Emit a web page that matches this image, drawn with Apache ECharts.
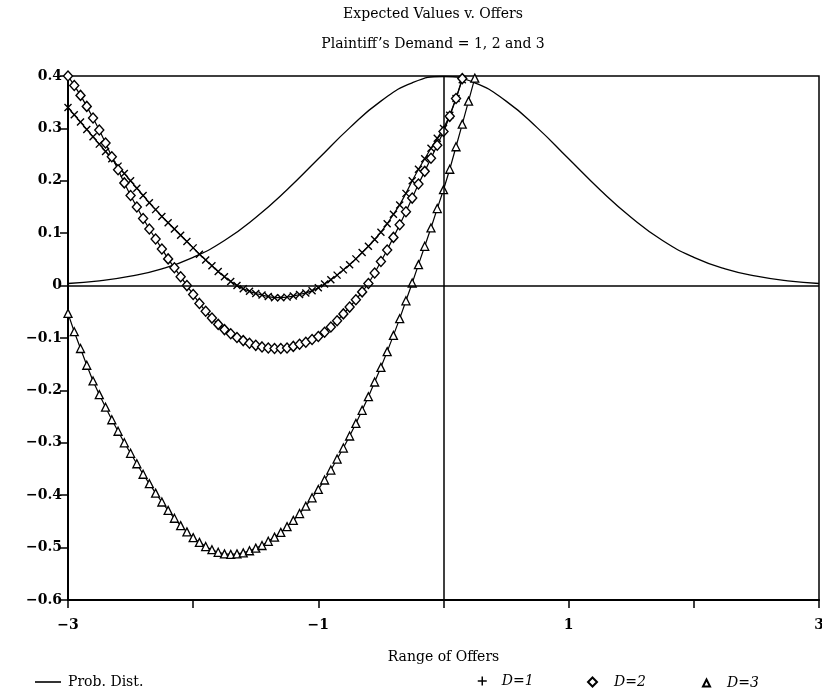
<!DOCTYPE html>
<html>
<head>
<meta charset="utf-8">
<script src="https://cdn.jsdelivr.net/npm/echarts@6/dist/echarts.min.js"></script>
<style>html,body{margin:0;padding:0;background:#fff;overflow:hidden}#c{width:822px;height:692px}</style>
</head>
<body>
<div id="c"></div>
<script>
// ---- data ----
const titleLines = ['Expected Values v. Offers', 'Plaintiff\u2019s Demand = 1, 2 and 3'];
const xName = 'Range of Offers';
const seriesNames = ['Prob. Dist.', 'D=1', 'D=2', 'D=3'];

const probX = [-3,-2.75,-2.5,-2.25,-2,-1.75,-1.5,-1.25,-1,-0.75,-0.5,-0.25,0,0.25,0.5,0.75,1,1.25,1.5,1.75,2,2.25,2.5,2.75,3];
const probY = [0.004,0.009,0.018,0.032,0.054,0.086,0.130,0.183,0.242,0.301,0.352,0.387,0.399,0.387,0.352,0.301,0.242,0.183,0.130,0.086,0.054,0.032,0.018,0.009,0.004];

const offers = [-3.00,-2.95,-2.90,-2.85,-2.80,-2.75,-2.70,-2.65,-2.60,-2.55,
  -2.50,-2.45,-2.40,-2.35,-2.30,-2.25,-2.20,-2.15,-2.10,-2.05,
  -2.00,-1.95,-1.90,-1.85,-1.80,-1.75,-1.70,-1.65,-1.60,-1.55,
  -1.50,-1.45,-1.40,-1.35,-1.30,-1.25,-1.20,-1.15,-1.10,-1.05,
  -1.00,-0.95,-0.90,-0.85,-0.80,-0.75,-0.70,-0.65,-0.60,-0.55,
  -0.50,-0.45,-0.40,-0.35,-0.30,-0.25,-0.20,-0.15,-0.10,-0.05,
  0.00,0.05,0.10,0.15,0.20,0.25];

const d1 = [0.340,0.326,0.312,0.298,0.284,0.270,0.256,0.242,0.228,0.214,
  0.200,0.186,0.172,0.158,0.145,0.132,0.120,0.108,0.096,0.084,
  0.072,0.060,0.049,0.038,0.027,0.017,0.008,0.000,-0.006,-0.011,
  -0.015,-0.018,-0.021,-0.023,-0.023,-0.022,-0.020,-0.017,-0.014,-0.010,
  -0.004,0.003,0.011,0.020,0.030,0.040,0.051,0.063,0.075,0.088,
  0.102,0.118,0.136,0.154,0.176,0.200,0.222,0.242,0.262,0.281,
  0.300,0.325,0.357,0.393];

const d2 = [0.400,0.382,0.363,0.342,0.320,0.297,0.272,0.246,0.221,0.196,
  0.172,0.150,0.128,0.108,0.089,0.070,0.051,0.034,0.017,0.000,
  -0.017,-0.034,-0.049,-0.062,-0.074,-0.084,-0.092,-0.099,-0.105,-0.110,
  -0.114,-0.117,-0.119,-0.120,-0.120,-0.119,-0.116,-0.112,-0.108,-0.103,
  -0.097,-0.089,-0.079,-0.067,-0.054,-0.041,-0.027,-0.012,0.004,0.024,
  0.046,0.068,0.092,0.116,0.141,0.167,0.194,0.218,0.243,0.268,
  0.294,0.323,0.357,0.395];

const d3 = [-0.053,-0.088,-0.120,-0.152,-0.182,-0.208,-0.232,-0.256,-0.278,-0.300,
  -0.320,-0.340,-0.360,-0.378,-0.396,-0.413,-0.429,-0.444,-0.458,-0.470,
  -0.481,-0.490,-0.498,-0.504,-0.509,-0.512,-0.513,-0.512,-0.510,-0.506,
  -0.501,-0.496,-0.488,-0.480,-0.471,-0.460,-0.448,-0.435,-0.421,-0.405,
  -0.389,-0.371,-0.352,-0.331,-0.310,-0.287,-0.263,-0.238,-0.212,-0.184,
  -0.156,-0.126,-0.095,-0.063,-0.029,0.005,0.040,0.075,0.110,0.147,
  0.183,0.222,0.265,0.308,0.352,0.396];

// ---- chart ----
const FONT = '"DejaVu Serif", serif';
const pair = (xs, ys) => ys.map((y, i) => [xs[i], y]);
const minus = s => String(s).replace('-', '\u2212');
const crossPath = 'path://M0,0L10,10M10,0L0,10';
const plusPath = 'path://M5,0L5,10M0,5L10,5';

const chart = echarts.init(document.getElementById('c'), null, {renderer: 'canvas'});
const lineBase = {
  type: 'line', smooth: false, clip: false,
  lineStyle: {color: '#000', width: 1.2},
  emphasis: {disabled: true}, animation: false
};
chart.setOption({
  animation: false,
  backgroundColor: '#fff',
  textStyle: {fontFamily: FONT, color: '#000'},
  title: {
    text: titleLines.join('\n'),
    left: 428, top: -6, textAlign: 'center',
    textStyle: {fontFamily: FONT, fontSize: 14, fontWeight: 'normal', color: '#000', lineHeight: 30}
  },
  legend: [
    {data: [{name: seriesNames[0], icon: 'rect'}], left: 30, top: 670, itemWidth: 26, itemHeight: 1.6,
     itemStyle: {color: '#000'},
     textStyle: {fontFamily: FONT, fontSize: 14, color: '#000', padding: [0,0,0,2]}},
    {data: [{name: seriesNames[1], icon: plusPath}], left: 472, top: 669, itemWidth: 9, itemHeight: 9,
     itemStyle: {color: '#000', borderColor: '#000', borderWidth: 1.5},
     textStyle: {fontFamily: FONT, fontSize: 14, fontStyle: 'italic', color: '#000', padding: [0,0,0,10]}},
    {data: [{name: seriesNames[2], icon: 'diamond'}], left: 582, top: 670, itemWidth: 9, itemHeight: 9,
     textStyle: {fontFamily: FONT, fontSize: 14, fontStyle: 'italic', color: '#000', padding: [0,0,0,12]}},
    {data: [{name: seriesNames[3], icon: 'triangle'}], left: 697, top: 671, itemWidth: 7, itemHeight: 7,
     textStyle: {fontFamily: FONT, fontSize: 14, fontStyle: 'italic', color: '#000', padding: [0,0,0,12]}}
  ],
  grid: {left: 68, right: 3, top: 76, bottom: 92, containLabel: false, outerBoundsMode: 'none',
         show: true, borderColor: '#000', borderWidth: 1.5, backgroundColor: 'transparent'},
  xAxis: {
    type: 'value', min: -3, max: 3, interval: 1,
    name: xName, nameLocation: 'middle', nameGap: 50,
    nameTextStyle: {fontFamily: FONT, fontSize: 14, color: '#000'},
    axisLine: {onZero: false, lineStyle: {color: '#000', width: 2}},
    axisTick: {inside: false, length: 8, lineStyle: {color: '#000', width: 1.5}},
    splitLine: {show: false},
    axisLabel: {
      fontFamily: FONT, fontSize: 14, fontWeight: 'bold', color: '#000', margin: 18,
      formatter: v => (Math.abs(Math.round(v)) % 2 === 1 ? minus(v) : '')
    }
  },
  yAxis: {
    type: 'value', min: -0.6, max: 0.4, interval: 0.1,
    axisLine: {onZero: false, lineStyle: {color: '#000', width: 2}},
    axisTick: {inside: false, length: 8, lineStyle: {color: '#000', width: 1.5}},
    splitLine: {show: false},
    axisLabel: {
      fontFamily: FONT, fontSize: 14, fontWeight: 'bold', color: '#000', margin: 6,
      formatter: v => (Math.abs(v) < 1e-9 ? '0' : minus(v.toFixed(1)))
    }
  },
  series: [
    Object.assign({}, lineBase, {
      name: seriesNames[0], data: pair(probX, probY), smooth: true, symbol: 'none',
      itemStyle: {color: '#000'},
      lineStyle: {color: '#000', width: 1.3},
      markLine: {
        silent: true, symbol: 'none', label: {show: false},
        lineStyle: {color: '#000', width: 1.5, type: 'solid'},
        data: [{yAxis: 0}, {xAxis: 0}]
      }
    }),
    Object.assign({}, lineBase, {
      name: seriesNames[1], data: pair(offers, d1), symbol: crossPath, symbolSize: 7,
      itemStyle: {color: '#000', borderColor: '#000', borderWidth: 1.4}
    }),
    Object.assign({}, lineBase, {
      name: seriesNames[2], data: pair(offers, d2), symbol: 'diamond', symbolSize: [9, 10],
      itemStyle: {color: '#fff', borderColor: '#000', borderWidth: 1.4}
    }),
    Object.assign({}, lineBase, {
      name: seriesNames[3], data: pair(offers, d3), symbol: 'triangle', symbolSize: 8,
      itemStyle: {color: '#fff', borderColor: '#000', borderWidth: 1.3}
    })
  ]
});
</script>
</body>
</html>
